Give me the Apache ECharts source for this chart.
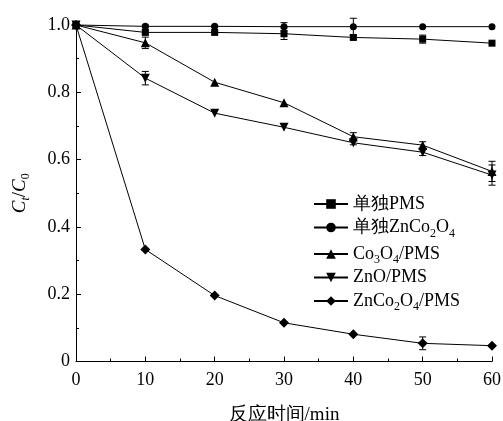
<!DOCTYPE html>
<html>
<head>
<meta charset="utf-8">
<script src="https://cdn.jsdelivr.net/npm/echarts@6/dist/echarts.min.js"></script>
<style>html,body{margin:0;padding:0;background:#fff}#c{width:503px;height:421px}</style>
</head>
<body>
<div id="c"></div>
<script>
var times = [0, 10, 20, 30, 40, 50, 60];
var pmsOnly   = [1.0, 0.978, 0.978, 0.974, 0.963, 0.958, 0.946];
var pmsOnlyErr = [0, 0.006, 0.004, 0.017, 0.006, 0.012, 0];
var zcoOnly   = [1.0, 0.996, 0.996, 0.995, 0.995, 0.995, 0.995];
var zcoOnlyErr = [0, 0.004, 0.003, 0.012, 0.025, 0, 0];
var co3o4Pms  = [1.0, 0.947, 0.830, 0.769, 0.668, 0.643, 0.565];
var co3o4Err  = [0, 0.017, 0, 0, 0.012, 0.01, 0.03];
var znoPms    = [1.0, 0.842, 0.738, 0.696, 0.650, 0.622, 0.554];
var znoErr    = [0, 0.02, 0, 0, 0.006, 0.01, 0.03];
var zcoPms    = [1.0, 0.333, 0.196, 0.115, 0.081, 0.054, 0.047];
var zcoPmsErr = [0, 0, 0, 0, 0, 0.019, 0];
var xTicks = [0, 10, 20, 30, 40, 50, 60];
var yTicks = [0, 0.2, 0.4, 0.6, 0.8, 1.0];

var names = ['单独PMS', '单独ZnCo2O4', 'Co3O4/PMS', 'ZnO/PMS', 'ZnCo2O4/PMS'];
var labels = {
  '单独PMS': '{n|单独PMS}',
  '单独ZnCo2O4': '{n|单独ZnCo}{s|2}{n|O}{s|4}',
  'Co3O4/PMS': '{n|Co}{s|3}{n|O}{s|4}{n|/PMS}',
  'ZnO/PMS': '{n|ZnO/PMS}',
  'ZnCo2O4/PMS': '{n|ZnCo}{s|2}{n|O}{s|4}{n|/PMS}'
};
var FONT = '"Liberation Serif","Times New Roman",serif';
var valuesList = [pmsOnly, zcoOnly, co3o4Pms, znoPms, zcoPms];
var errList = [pmsOnlyErr, zcoOnlyErr, co3o4Err, znoErr, zcoPmsErr];
var symbols = ['rect', 'circle', 'triangle', 'triangle', 'diamond'];
var sizes = [7, 7, 9, 9, 10];
var rotates = [0, 0, 0, 180, 0];

var series = [];
names.forEach(function (nm, i) {
  series.push({
    name: nm, type: 'line',
    data: times.map(function (t, j) { return [t, valuesList[i][j]]; }),
    symbol: symbols[i], symbolSize: sizes[i], symbolRotate: rotates[i],
    showAllSymbol: true, clip: false,
    lineStyle: { color: '#000', width: 1 },
    itemStyle: { color: '#000' },
    z: 3
  });
  var errData = [];
  times.forEach(function (t, j) {
    if (errList[i][j] > 0) errData.push([t, valuesList[i][j], errList[i][j]]);
  });
  series.push({
    type: 'custom', clip: false, silent: true, z: 2,
    data: errData,
    renderItem: function (params, api) {
      var x = api.value(0), y = api.value(1), e = api.value(2);
      var top = api.coord([x, y + e]);
      var bot = api.coord([x, y - e]);
      var w = 3.5;
      var st = { stroke: '#000', lineWidth: 1 };
      return {
        type: 'group',
        children: [
          { type: 'line', shape: { x1: top[0], y1: top[1], x2: bot[0], y2: bot[1] }, style: st },
          { type: 'line', shape: { x1: top[0] - w, y1: top[1], x2: top[0] + w, y2: top[1] }, style: st },
          { type: 'line', shape: { x1: bot[0] - w, y1: bot[1], x2: bot[0] + w, y2: bot[1] }, style: st }
        ]
      };
    }
  });
});

var chart = echarts.init(document.getElementById('c'), null, { renderer: 'canvas' });
chart.setOption({
  animation: false,
  backgroundColor: '#fff',
  grid: { left: 76, right: 11, top: 25, bottom: 59.5, containLabel: false, outerBoundsMode: 'none' },
  legend: {
    data: names,
    orient: 'vertical',
    left: 308, top: 190,
    itemWidth: 34, itemHeight: 12, itemGap: 2.5,
    formatter: function (n) { return labels[n]; },
    textStyle: {
      color: '#000', fontFamily: FONT, fontSize: 18,
      rich: {
        n: { fontFamily: FONT, fontSize: 18, color: '#000', lineHeight: 24 },
        s: { fontFamily: FONT, fontSize: 12, color: '#000', lineHeight: 12, padding: [12, 0, 0, 0] }
      }
    }
  },
  xAxis: {
    type: 'value', min: 0, max: 60, interval: 10,
    name: '反应时间/min', nameLocation: 'middle', nameGap: 44,
    nameTextStyle: { fontFamily: FONT, fontSize: 19, color: '#000' },
    axisLine: { show: true, lineStyle: { color: '#000', width: 1 } },
    axisTick: { show: true, inside: true, length: 5, lineStyle: { color: '#000' } },
    minorTick: { show: true, splitNumber: 2, length: 3, lineStyle: { color: '#000' } },
    splitLine: { show: false },
    axisLabel: { fontFamily: FONT, fontSize: 18, color: '#000', margin: 10,
      formatter: function (v) { return xTicks.indexOf(v) >= 0 ? String(v) : ''; } }
  },
  yAxis: {
    type: 'value', min: 0, max: 1.0, interval: 0.2,
    name: '{i|C}{si|t}{r|/}{i|C}{s|0}', nameLocation: 'middle', nameGap: 44,
    nameRotate: 90,
    nameTextStyle: {
      fontFamily: FONT, fontSize: 19, color: '#000',
      rich: {
        i: { fontFamily: FONT, fontSize: 19, fontStyle: 'italic', color: '#000', lineHeight: 24 },
        r: { fontFamily: FONT, fontSize: 19, color: '#000', lineHeight: 24 },
        si: { fontFamily: FONT, fontSize: 12, fontStyle: 'italic', color: '#000', lineHeight: 12, padding: [12, 0, 0, 0] },
        s: { fontFamily: FONT, fontSize: 12, color: '#000', lineHeight: 12, padding: [12, 0, 0, 0] }
      }
    },
    axisLine: { show: true, lineStyle: { color: '#000', width: 1 } },
    axisTick: { show: true, inside: true, length: 5, lineStyle: { color: '#000' } },
    minorTick: { show: true, splitNumber: 2, length: 3, lineStyle: { color: '#000' } },
    splitLine: { show: false },
    axisLabel: { fontFamily: FONT, fontSize: 18, color: '#000', margin: 6,
      formatter: function (v) {
        for (var k = 0; k < yTicks.length; k++) if (Math.abs(yTicks[k] - v) < 1e-9) return v === 0 ? '0' : v.toFixed(1);
        return '';
      } }
  },
  series: series
});
</script>
</body>
</html>
